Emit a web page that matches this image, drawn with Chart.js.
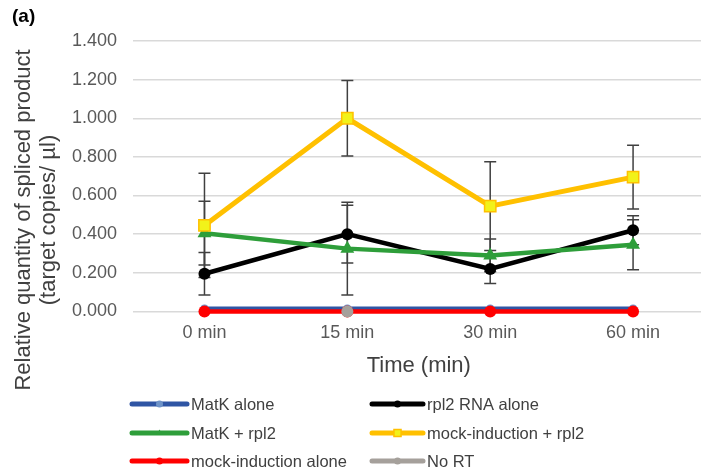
<!DOCTYPE html>
<html>
<head>
<meta charset="utf-8">
<script src="https://cdn.jsdelivr.net/npm/chart.js@4/dist/chart.umd.min.js"></script>
<style>
  html, body { margin: 0; padding: 0; background: #fff; overflow: hidden; }
  #wrap { position: relative; width: 714px; height: 475px; }
</style>
</head>
<body>
<div id="wrap"><canvas id="chart" width="714" height="475"></canvas></div>
<script>
// Data
const timeLabels = ['0 min', '15 min', '30 min', '60 min'];

const matkAlone = [0.015, 0.015, 0.015, 0.015];
const rpl2Alone = [0.195, 0.40, 0.22, 0.42];
const rpl2AloneErr = [0.11, 0.15, 0.075, 0.075];
const matkRpl2 = [0.405, 0.325, 0.29, 0.345];
const matkRpl2Err = [0.165, 0.24, 0.085, 0.13];
const mockRpl2 = [0.445, 1.00, 0.545, 0.695];
const mockRpl2Err = [0.27, 0.195, 0.23, 0.165];
const mockAlone = [0, 0, 0, 0];
const noRT = [null, 0, null, null];

const FONT = "'Liberation Sans', Arial, sans-serif";

// error bars drawn through the y scale, behind the lines
const errorBarPlugin = {
  id: 'errorBars',
  beforeDatasetsDraw(chart) {
    const ctx = chart.ctx;
    const x = chart.scales.x, y = chart.scales.y;
    ctx.save();
    ctx.strokeStyle = '#404040';
    ctx.lineWidth = 1.5;
    chart.data.datasets.forEach(ds => {
      if (!ds.errors) return;
      ds.data.forEach((v, i) => {
        if (v == null) return;
        const px = x.getPixelForValue(i);
        const top = y.getPixelForValue(v + ds.errors[i]);
        const bot = y.getPixelForValue(v - ds.errors[i]);
        ctx.beginPath();
        ctx.moveTo(px, top); ctx.lineTo(px, bot);
        ctx.moveTo(px - 6, top); ctx.lineTo(px + 6, top);
        ctx.moveTo(px - 6, bot); ctx.lineTo(px + 6, bot);
        ctx.stroke();
      });
    });
    ctx.restore();
  }
};

// panel label, two-line y title and two-column legend
const extrasPlugin = {
  id: 'extras',
  afterDraw(chart) {
    const ctx = chart.ctx;
    ctx.save();
    ctx.fillStyle = '#000';
    ctx.font = 'bold 19px ' + FONT;
    ctx.textBaseline = 'middle';
    ctx.fillText('(a)', 12, 17);

    // y axis title
    ctx.fillStyle = '#404040';
    ctx.font = '22px ' + FONT;
    ctx.textAlign = 'center';
    ctx.translate(24, 220);
    ctx.rotate(-Math.PI / 2);
    ctx.fillText('Relative quantity of spliced product', 0, 0);
    ctx.fillText('(target copies/ µl)', 0, 25);
    ctx.setTransform(1, 0, 0, 1, 0, 0);

    // legend, two columns
    const cols = [[132, 187], [372, 423]];
    const rows = [404, 433, 461];
    ctx.font = '16.5px ' + FONT;
    ctx.textAlign = 'left';
    chart.data.datasets.forEach((ds, i) => {
      const c = cols[i % 2], yy = rows[Math.floor(i / 2)];
      ctx.strokeStyle = ds.borderColor;
      ctx.lineWidth = 5;
      ctx.lineCap = 'round';
      ctx.beginPath();
      ctx.moveTo(c[0], yy); ctx.lineTo(c[1], yy);
      ctx.stroke();
      ctx.fillStyle = ds.pointBackgroundColor;
      ctx.strokeStyle = ds.pointBorderColor;
      ctx.lineWidth = ds.pointBorderWidth;
      Chart.helpers.drawPoint(ctx, {
        pointStyle: ds.pointStyle,
        radius: ds.legendRadius,
        borderWidth: ds.pointBorderWidth
      }, (c[0] + c[1]) / 2, yy);
      ctx.fillStyle = '#404040';
      ctx.fillText(ds.label, c[1] + 4, yy + 1);
    });
    ctx.restore();
  }
};

function series(label, data, color, opts) {
  return Object.assign({
    label: label,
    data: data,
    borderColor: color,
    backgroundColor: color,
    borderWidth: 4.5,
    pointStyle: 'circle',
    pointRadius: 6,
    pointHoverRadius: 6,
    pointBorderWidth: 0,
    pointBorderColor: color,
    pointBackgroundColor: color,
    legendRadius: 3.5,
    tension: 0,
    clip: false
  }, opts || {});
}

const datasets = [
  series('MatK alone', matkAlone, '#2F55A4', { pointRadius: 4, pointBackgroundColor: '#6E93C8', pointBorderColor: '#6E93C8', order: 6, borderWidth: 4 }),
  series('rpl2 RNA alone', rpl2Alone, '#000000', { errors: rpl2AloneErr, order: 5 }),
  series('MatK + rpl2', matkRpl2, '#2E9E3A', { errors: matkRpl2Err, pointStyle: 'triangle', pointRadius: 8, order: 4 }),
  series('mock-induction + rpl2', mockRpl2, '#FFC000', { errors: mockRpl2Err, pointStyle: 'rect', pointRadius: 8, pointBorderWidth: 1.5, pointBackgroundColor: '#F2F21A', pointBorderColor: '#FFC000', borderWidth: 5, order: 3, legendRadius: 5 }),
  series('mock-induction alone', mockAlone, '#FF0000', { order: 2 }),
  series('No RT', noRT, '#A5A09B', { order: 1 })
];

new Chart(document.getElementById('chart'), {
  type: 'line',
  data: { labels: timeLabels, datasets: datasets },
  plugins: [errorBarPlugin, extrasPlugin],
  options: {
    responsive: false,
    animation: false,
    layout: { padding: { left: 56, top: 41, right: 0, bottom: 98 } },
    plugins: {
      legend: { display: false },
      tooltip: { enabled: false }
    },
    scales: {
      x: {
        offset: true,
        grid: { display: false },
        border: { display: false },
        ticks: { color: '#595959', font: { family: FONT, size: 18 }, padding: 3 },
        title: {
          display: true,
          text: 'Time (min)',
          color: '#404040',
          font: { family: FONT, size: 22, lineHeight: 1 },
          padding: { top: 8, bottom: 0 }
        }
      },
      y: {
        min: 0,
        max: 1.4,
        border: { display: false },
        grid: { color: '#D9D9D9', lineWidth: 1.5, drawTicks: false },
        ticks: {
          stepSize: 0.2,
          color: '#595959',
          font: { family: FONT, size: 18 },
          padding: 16,
          callback: v => v.toFixed(3)
        }
      }
    }
  }
});
</script>
</body>
</html>
